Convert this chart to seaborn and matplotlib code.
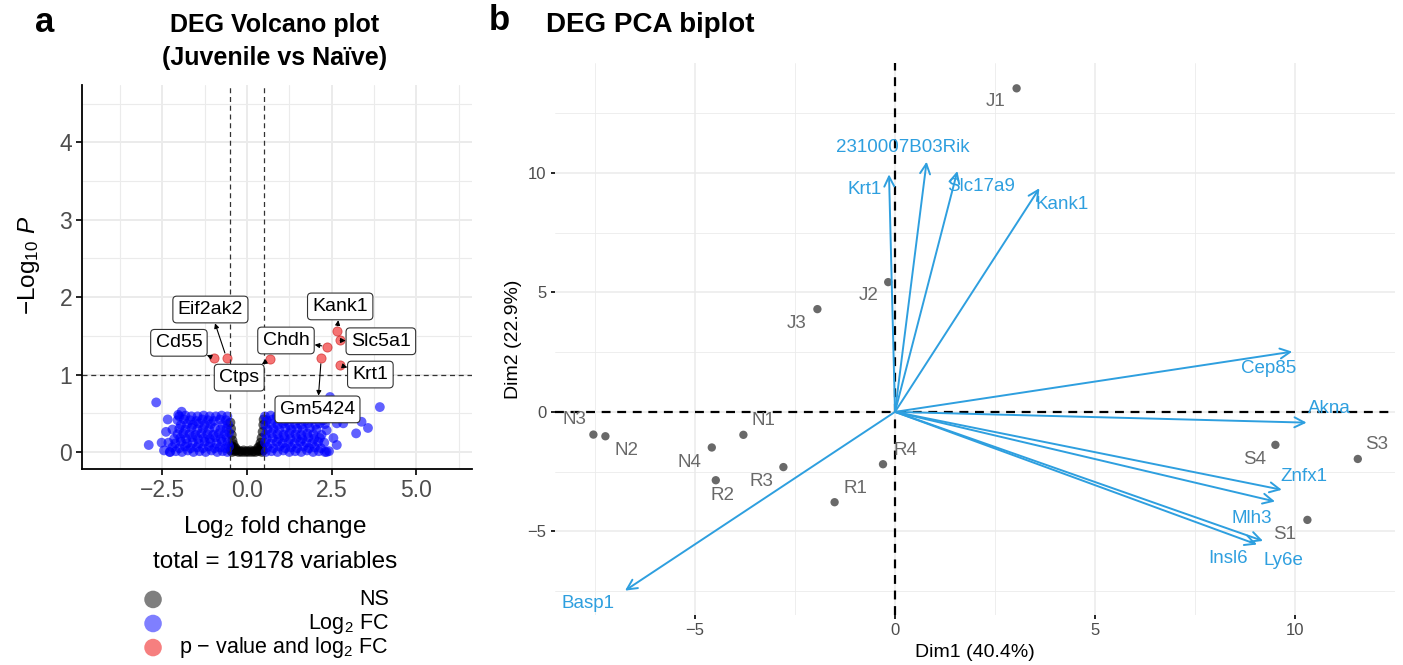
import numpy as np
import pandas as pd
import matplotlib
matplotlib.use("Agg")
import matplotlib.pyplot as plt
import seaborn as sns

sns.set_theme(style="whitegrid")
plt.rcParams['font.family'] = ['Liberation Sans', 'DejaVu Sans']
plt.rcParams['mathtext.fontset'] = 'custom'
plt.rcParams['mathtext.rm'] = 'Liberation Sans'
plt.rcParams['mathtext.it'] = 'Liberation Sans:italic'
plt.rcParams['mathtext.bf'] = 'Liberation Sans:bold'
plt.rcParams['text.color'] = 'black'
plt.rcParams['axes.labelcolor'] = 'black'

# ----------------------------------
# Volcano data (a representative subset)
# ----------------------------------
ns_pts = [
    (-0.49, 0.38), (-0.47, 0.30), (-0.45, 0.22), (-0.43, 0.15), (-0.46, 0.08),
    (-0.40, 0.10), (-0.36, 0.06), (-0.48, 0.02), (-0.44, 0.00), (-0.40, 0.03),
    (-0.35, 0.01), (-0.30, 0.02), (-0.25, 0.00), (-0.20, 0.01), (-0.15, 0.00),
    (-0.10, 0.02), (-0.05, 0.00), (0.00, 0.01), (0.05, 0.00), (0.10, 0.02),
    (0.15, 0.00), (0.20, 0.01), (0.25, 0.00), (0.30, 0.02), (0.35, 0.01),
    (0.40, 0.03), (0.44, 0.00), (0.48, 0.02), (0.36, 0.07), (0.40, 0.12),
    (0.43, 0.18), (0.46, 0.26), (0.48, 0.35), (0.49, 0.42), (0.45, 0.05),
    (-0.32, 0.04), (0.32, 0.05), (-0.42, 0.06), (0.42, 0.08),
]

fc_pts = [
    # left cloud
    (-2.28, 0.00), (-2.10, 0.01), (-1.92, 0.00), (-1.75, 0.02), (-1.58, 0.00), (-1.40, 0.01),
    (-1.22, 0.00), (-1.05, 0.02), (-0.88, 0.00), (-0.72, 0.01), (-0.58, 0.00),
    (-2.20, 0.06), (-2.00, 0.05), (-1.83, 0.07), (-1.66, 0.05), (-1.48, 0.06), (-1.30, 0.05),
    (-1.13, 0.07), (-0.96, 0.05), (-0.80, 0.06), (-0.64, 0.05), (-0.53, 0.07),
    (-2.32, 0.12), (-2.12, 0.11), (-1.95, 0.13), (-1.77, 0.11), (-1.60, 0.12), (-1.42, 0.11),
    (-1.25, 0.13), (-1.08, 0.12), (-0.90, 0.11), (-0.74, 0.13), (-0.57, 0.12),
    (-2.15, 0.17), (-1.97, 0.18), (-1.80, 0.17), (-1.62, 0.19), (-1.45, 0.17), (-1.27, 0.18),
    (-1.10, 0.17), (-0.93, 0.19), (-0.77, 0.17), (-0.60, 0.18),
    (-2.05, 0.23), (-1.88, 0.24), (-1.70, 0.23), (-1.52, 0.22), (-1.35, 0.24), (-1.17, 0.23),
    (-1.00, 0.22), (-0.83, 0.24), (-0.66, 0.23), (-0.53, 0.25),
    (-2.20, 0.29), (-2.00, 0.30), (-1.82, 0.29), (-1.64, 0.31), (-1.47, 0.29), (-1.30, 0.30),
    (-1.12, 0.29), (-0.95, 0.31), (-0.78, 0.29), (-0.60, 0.30),
    (-1.95, 0.35), (-1.77, 0.36), (-1.60, 0.35), (-1.42, 0.37), (-1.25, 0.35), (-1.07, 0.36),
    (-0.72, 0.35), (-0.56, 0.36),
    (-2.05, 0.41), (-1.86, 0.42), (-1.68, 0.41), (-1.50, 0.40), (-1.32, 0.42), (-1.15, 0.41),
    (-0.98, 0.40), (-0.80, 0.42), (-0.62, 0.41),
    (-2.00, 0.46), (-1.82, 0.47), (-1.64, 0.46), (-1.46, 0.46), (-1.28, 0.47), (-1.10, 0.46),
    (-0.92, 0.46), (-0.75, 0.47), (-0.58, 0.46),
    (-2.90, 0.09), (-2.68, 0.64), (-2.52, 0.12), (-2.39, 0.26), (-2.34, 0.42), (-2.27, 0.00),
    (-2.03, 0.48), (-1.93, 0.52), (-2.45, 0.02),
    # right cloud
    (0.55, 0.00), (0.72, 0.01), (0.90, 0.00), (1.07, 0.02), (1.25, 0.00), (1.42, 0.01),
    (1.60, 0.00), (1.77, 0.02), (1.95, 0.00), (2.12, 0.01), (2.30, 0.00), (2.42, 0.01),
    (0.60, 0.06), (0.78, 0.05), (0.96, 0.07), (1.13, 0.05), (1.30, 0.06), (1.48, 0.05),
    (1.66, 0.07), (1.83, 0.05), (2.00, 0.06), (2.18, 0.05),
    (0.53, 0.12), (0.70, 0.11), (0.88, 0.13), (1.05, 0.11), (1.22, 0.12), (1.40, 0.11),
    (1.57, 0.13), (1.75, 0.12), (1.92, 0.11), (2.10, 0.13), (2.28, 0.12),
    (0.58, 0.17), (0.76, 0.18), (0.94, 0.17), (1.11, 0.19), (1.28, 0.17), (1.46, 0.18),
    (1.63, 0.17), (1.81, 0.19), (1.98, 0.17), (2.15, 0.18),
    (0.55, 0.23), (0.73, 0.24), (0.90, 0.23), (1.08, 0.22), (1.25, 0.24), (1.43, 0.23),
    (1.60, 0.22), (1.78, 0.24), (1.96, 0.23), (2.20, 0.22),
    (0.60, 0.29), (0.78, 0.30), (0.95, 0.29), (1.13, 0.31), (1.30, 0.29), (1.48, 0.30),
    (1.65, 0.29), (1.85, 0.31), (2.05, 0.29),
    (0.54, 0.35), (0.72, 0.36), (0.90, 0.35), (1.07, 0.37), (1.25, 0.35), (1.42, 0.36),
    (1.60, 0.35), (1.80, 0.37), (2.02, 0.35), (2.30, 0.36),
    (0.58, 0.41), (0.76, 0.42), (0.94, 0.41), (1.12, 0.40), (1.30, 0.42), (1.50, 0.41),
    (1.70, 0.40), (1.95, 0.42), (2.25, 0.41),
    (0.53, 0.46), (0.70, 0.47), (0.88, 0.46), (1.05, 0.46), (1.23, 0.47), (1.40, 0.46),
    (1.58, 0.46), (1.76, 0.47), (1.95, 0.46), (2.15, 0.46),
    (2.35, 0.28), (2.65, 0.09), (2.35, 0.00), (2.65, 0.37), (2.84, 0.37), (3.22, 0.24),
    (3.57, 0.31), (3.38, 0.39), (3.92, 0.58), (2.45, 0.71), (2.15, 0.37), (2.55, 0.18),
]

sig_genes = ["Cd55", "Eif2ak2", "Ctps", "Chdh", "Gm5424", "Kank1", "Slc5a1", "Krt1"]
sig_lfc = [-0.97, -0.60, 0.69, 2.37, 2.19, 2.65, 2.75, 2.75]
sig_nlp = [1.21, 1.21, 1.20, 1.36, 1.21, 1.56, 1.44, 1.12]
sig_lab_x = [-2.01, -1.08, -0.23, 1.15, 2.08, 2.75, 3.95, 3.64]
sig_lab_y = [1.41, 1.84, 0.96, 1.44, 0.55, 1.88, 1.43, 1.00]

legend_labels = ["NS", "Log$_2$ FC", "p $-$ value and log$_2$ FC"]

# ----------------------------------
# PCA data
# ----------------------------------
samples = ["J1", "J2", "J3", "N1", "N2", "N3", "N4",
           "R1", "R2", "R3", "R4", "S1", "S3", "S4"]
dim1 = [3.04, -0.17, -1.94, -3.79, -7.24, -7.54, -4.58,
        -1.51, -4.48, -2.79, -0.30, 10.31, 11.57, 9.51]
dim2 = [13.54, 5.43, 4.30, -0.96, -1.02, -0.95, -1.49,
        -3.78, -2.86, -2.31, -2.19, -4.52, -1.97, -1.38]
sample_lab_x = [2.52, -0.65, -2.46, -3.29, -6.71, -8.02, -5.13,
                -1.00, -4.31, -3.33, 0.25, 9.75, 12.04, 8.98]
sample_lab_y = [12.98, 4.85, 3.71, -0.38, -1.63, -0.33, -2.12,
                -3.19, -3.50, -2.92, -1.62, -5.15, -1.38, -1.98]

genes = ["Krt1", "2310007B03Rik", "Slc17a9", "Kank1", "Basp1", "Cep85",
         "Akna", "Znfx1", "Mlh3", "Insl6", "Ly6e"]
gene_d1 = [-0.15, 0.79, 1.56, 3.61, -6.75, 9.93, 10.29, 9.67, 9.50, 9.05, 9.20]
gene_d2 = [9.94, 10.47, 10.08, 9.36, -7.48, 2.52, -0.45, -3.26, -3.75, -5.55, -5.40]
gene_lab_x = [-0.77, 0.19, 2.15, 4.17, -7.67, 9.33, 10.86, 10.21, 8.92, 8.32, 9.71]
gene_lab_y = [9.29, 11.07, 9.43, 8.66, -8.00, 1.83, 0.15, -2.71, -4.45, -6.12, -6.23]

# ----------------------------------
# Frames
# ----------------------------------
vol = pd.concat([
    pd.DataFrame(ns_pts, columns=["lfc", "nlp"]).assign(group="NS"),
    pd.DataFrame(fc_pts, columns=["lfc", "nlp"]).assign(group="FC"),
    pd.DataFrame({"lfc": sig_lfc, "nlp": sig_nlp}).assign(group="Sig"),
], ignore_index=True)
pal = {"NS": "black", "FC": "blue", "Sig": "#EE0000"}

pca = pd.DataFrame({"Dim1": dim1, "Dim2": dim2, "name": samples})
var = pd.DataFrame({"Dim1": gene_d1, "Dim2": gene_d2, "name": genes})

W, H = 1403, 665
fig = plt.figure(figsize=(W / 100, H / 100), dpi=100)

def box(x0, y0, x1, y1):
    return [x0 / W, 1 - y1 / H, (x1 - x0) / W, (y1 - y0) / H]

grid_col = "#EBEBEB"
tick_col = "#4D4D4D"

# ----------------------------------
# a: Volcano
# ----------------------------------
ax = fig.add_axes(box(82, 85, 472, 469))
ax.set_facecolor("white")
sns.scatterplot(data=vol[vol.group != "Sig"], x="lfc", y="nlp", hue="group",
                palette=pal, alpha=0.62, s=50, edgecolor="none", linewidth=0,
                legend=False, ax=ax)
sns.scatterplot(data=vol[vol.group == "Sig"], x="lfc", y="nlp", color="#EE0000",
                alpha=0.55, s=44, edgecolor="#C00000", linewidth=0.6, legend=False, ax=ax)
ax.set_xlim(-4.87, 6.64)
ax.set_ylim(-0.22, 4.74)
ax.set_xticks([-2.5, 0, 2.5, 5.0])
ax.set_xticklabels(["\u22122.5", "0.0", "2.5", "5.0"])
ax.set_yticks([0, 1, 2, 3, 4])
ax.set_xticks([-3.75, -1.25, 1.25, 3.75, 6.25], minor=True)
ax.set_yticks([0.5, 1.5, 2.5, 3.5, 4.5], minor=True)
ax.grid(True, which="major", color=grid_col, lw=1.4)
ax.grid(True, which="minor", color=grid_col, lw=0.8)
ax.set_axisbelow(True)
for s in ["top", "right"]:
    ax.spines[s].set_visible(False)
for s in ["left", "bottom"]:
    ax.spines[s].set_color("black")
    ax.spines[s].set_linewidth(1.3)
ax.tick_params(which="major", length=4, width=1.2, color="black",
               labelsize=16.5, labelcolor=tick_col, pad=3, left=True, bottom=True)
ax.tick_params(which="minor", length=0)
for v in (-0.5, 0.5):
    ax.axvline(v, color="#333333", lw=0.9, ls=(0, (4, 3)), zorder=1)
ax.axhline(1, color="#333333", lw=0.9, ls=(0, (4, 3)), zorder=1)
ax.set_xlabel("Log$_2$ fold change", fontsize=17.5)
ax.set_ylabel("$-$Log$_{10}$ $\\mathit{P}$", fontsize=17.5)
ax.xaxis.set_label_coords(0.495, -0.118)
ax.yaxis.set_label_coords(-0.102, 0.53)

for g, px, py, lx, ly in zip(sig_genes, sig_lfc, sig_nlp, sig_lab_x, sig_lab_y):
    ax.annotate(g, xy=(px, py), xytext=(lx, ly), ha="center", va="center",
                fontsize=14, color="black", zorder=5,
                bbox=dict(boxstyle="round,pad=0.25,rounding_size=0.2", fc="white",
                          ec="#333333", lw=0.8),
                arrowprops=dict(arrowstyle="<|-", color="black", lw=0.8,
                                mutation_scale=7, shrinkA=0, shrinkB=4))

fig.text(45 / W, 1 - 22 / H, "a", fontsize=25, fontweight="bold", ha="center", va="center")
fig.text(275 / W, 1 - 25 / H, "DEG Volcano plot", fontsize=18, fontweight="bold",
         ha="center", va="center")
fig.text(275 / W, 1 - 58 / H, "(Juvenile vs Na\u00efve)", fontsize=18, fontweight="bold",
         ha="center", va="center")
fig.text(275 / W, 1 - 562 / H, "total = 19178 variables", fontsize=17.5,
         ha="center", va="center")

# legend
lax = fig.add_axes(box(120, 585, 400, 662))
lax.set_xlim(0, 1)
lax.set_ylim(2.6, -0.6)
lax.axis("off")
leg = pd.DataFrame({"x": [0.118] * 3, "y": [0, 1, 2], "group": ["NS", "FC", "Sig"]})
sns.scatterplot(data=leg, x="x", y="y", hue="group", palette=pal, alpha=0.5,
                s=160, edgecolor="none", linewidth=0, legend=False, ax=lax)
for i, t in enumerate(legend_labels):
    lax.text(0.96, i, t, fontsize=15.5, ha="right", va="center")

# ----------------------------------
# b: PCA biplot
# ----------------------------------
bx = fig.add_axes(box(555, 63, 1395, 615))
bx.set_facecolor("white")
bx.set_xlim(-8.5, 12.5)
bx.set_ylim(-8.5, 14.6)
bx.set_xticks([-5, 0, 5, 10])
bx.set_xticklabels(["\u22125", "0", "5", "10"])
bx.set_yticks([-5, 0, 5, 10])
bx.set_yticklabels(["\u22125", "0", "5", "10"])
bx.set_xticks([-7.5, -2.5, 2.5, 7.5, 12.5], minor=True)
bx.set_yticks([-7.5, -2.5, 2.5, 7.5, 12.5], minor=True)
bx.grid(True, which="major", color=grid_col, lw=1.1)
bx.grid(True, which="minor", color=grid_col, lw=0.6)
bx.set_axisbelow(True)
for s in bx.spines.values():
    s.set_visible(False)
bx.tick_params(which="major", length=3, width=1.2, color="black",
               labelsize=12, labelcolor=tick_col, pad=3, left=True, bottom=True)
bx.tick_params(which="minor", length=0)
bx.axvline(0, color="black", lw=1.6, ls=(0, (4, 3)), zorder=2)
bx.axhline(0, color="black", lw=1.6, ls=(0, (4, 3)), zorder=2)

sns.scatterplot(data=pca, x="Dim1", y="Dim2", color="#696969", s=36,
                edgecolor="none", linewidth=0, legend=False, ax=bx, zorder=3)
for n, lx, ly in zip(samples, sample_lab_x, sample_lab_y):
    bx.text(lx, ly, n, fontsize=13.5, color="#696969", ha="center", va="center", zorder=4)

for _, r in var.iterrows():
    bx.annotate("", xy=(r.Dim1, r.Dim2), xytext=(0, 0),
                arrowprops=dict(arrowstyle="->,head_length=0.6,head_width=0.3",
                                color="#2E9FDF", lw=1.4, shrinkA=0, shrinkB=0),
                zorder=4)
for n, lx, ly in zip(genes, gene_lab_x, gene_lab_y):
    bx.text(lx, ly, n, fontsize=13.5, color="#2E9FDF", ha="center", va="center", zorder=5)

bx.set_xlabel("Dim1 (40.4%)", fontsize=14, labelpad=4)
bx.set_ylabel("Dim2 (22.9%)", fontsize=14, labelpad=4)

fig.text(499 / W, 1 - 20 / H, "b", fontsize=25, fontweight="bold", ha="center", va="center")
fig.text(546 / W, 1 - 25 / H, "DEG PCA biplot", fontsize=20, fontweight="bold",
         ha="left", va="center")

fig.savefig("out.png", dpi=100)
